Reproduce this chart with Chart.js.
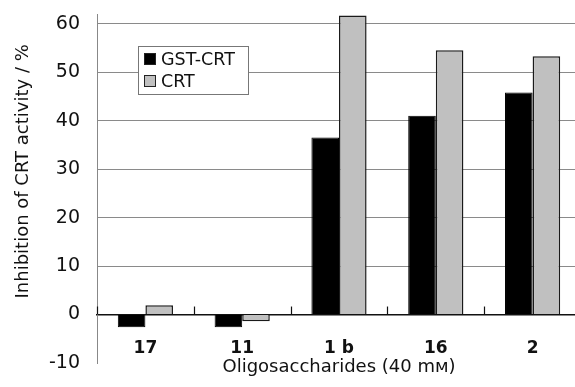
<!DOCTYPE html>
<html>
<head>
<meta charset="utf-8">
<script src="https://cdn.jsdelivr.net/npm/chart.js@4.4.0/dist/chart.umd.min.js"></script>
<style>
  html, body { margin: 0; padding: 0; background: #fff; overflow: hidden; }
  #wrap { width: 590px; height: 387px; }
</style>
</head>
<body>
<div id="wrap"><canvas id="chart"></canvas></div>
<script>
// data
const categories = ['17', '11', '1 b', '16', '2'];
const gstCrt = [-2.6, -2.6, 36.5, 41.0, 45.8];
const crt = [1.9, -1.4, 61.7, 54.5, 53.3];
const seriesNames = ['GST-CRT', 'CRT'];
const yTicks = [-10, 0, 10, 20, 30, 40, 50, 60];

const FONT = 'DejaVu Sans';

// boxed legend drawn inside the plot, upper left
const insideLegend = {
    id: 'insideLegend',
    afterDatasetsDraw(chart) {
        const ctx = chart.ctx;
        const x = 138, y = 46, w = 110, h = 48;
        ctx.save();
        ctx.fillStyle = '#fff';
        ctx.strokeStyle = '#777';
        ctx.lineWidth = 1;
        ctx.fillRect(x, y, w, h);
        ctx.strokeRect(x + 0.5, y + 0.5, w, h);
        ctx.font = '17.5px "' + FONT + '"';
        ctx.textBaseline = 'middle';
        chart.data.datasets.forEach((ds, i) => {
            const cy = y + 13 + i * 22;
            ctx.fillStyle = ds.backgroundColor;
            ctx.fillRect(x + 6, cy - 6, 12, 12);
            ctx.strokeStyle = '#222';
            ctx.strokeRect(x + 6.5, cy - 5.5, 11, 11);
            ctx.fillStyle = '#111';
            ctx.fillText(ds.label, x + 23, cy + 1);
        });
        ctx.restore();
    }
};

// small upward tick marks on the zero line between categories
const zeroTicks = {
    id: 'zeroTicks',
    afterDatasetsDraw(chart) {
        const ctx = chart.ctx;
        const xs = chart.scales.x, ys = chart.scales.y;
        const y0 = ys.getPixelForValue(0);
        ctx.save();
        ctx.strokeStyle = '#111';
        ctx.lineWidth = 1.2;
        for (let i = 0; i <= categories.length; i++) {
            const px = Math.round(xs.getPixelForValue(i - 0.5)) + 0.5;
            ctx.beginPath();
            ctx.moveTo(px, y0);
            ctx.lineTo(px, y0 - 8);
            ctx.stroke();
        }
        ctx.restore();
    }
};

new Chart(document.getElementById('chart'), {
    type: 'bar',
    data: {
        labels: categories,
        datasets: [{
            label: seriesNames[0],
            data: gstCrt,
            backgroundColor: '#000',
            borderColor: '#000',
            borderWidth: 1
        }, {
            label: seriesNames[1],
            data: crt,
            backgroundColor: '#c0c0c0',
            borderColor: '#1a1a1a',
            borderWidth: 1.5
        }]
    },
    options: {
        responsive: true,
        maintainAspectRatio: false,
        animation: false,
        layout: { padding: { top: 14, right: 9, bottom: 0, left: 0 } },
        datasets: {
            bar: { categoryPercentage: 0.57, barPercentage: 1.0 }
        },
        plugins: {
            legend: { display: false },
            tooltip: { enabled: false },
            title: {
                display: true,
                position: 'bottom',
                fullSize: false,
                text: 'Oligosaccharides (40 mᴍ)',
                color: '#111',
                padding: { top: -6, bottom: 8.4 },
                font: { family: FONT, size: 18, weight: 'normal' }
            }
        },
        scales: {
            x: {
                position: { y: 0 },
                grid: { display: false, drawTicks: false },
                border: { display: true, color: '#111', width: 1.5 },
                ticks: {
                    color: '#111',
                    padding: 24,
                    maxRotation: 0,
                    font: { family: FONT, size: 17, weight: 'bold' }
                }
            },
            y: {
                min: -10,
                max: 62,
                afterBuildTicks: scale => {
                    scale.ticks = yTicks.map(v => ({ value: v }));
                },
                afterFit: scale => { scale.width = 97; },
                grid: {
                    drawTicks: true,
                    tickLength: 15,
                    tickColor: 'rgba(0,0,0,0)',
                    color: c => (c.tick && c.tick.value > 0 ? '#8a8a8a' : 'rgba(0,0,0,0)'),
                    lineWidth: 1
                },
                border: { display: true, color: '#888', width: 1 },
                ticks: {
                    color: '#111',
                    padding: 2,
                    font: { family: FONT, size: 19 }
                },
                title: {
                    display: true,
                    text: '      Inhibition of CRT activity / %',
                    color: '#111',
                    padding: { top: 13, bottom: 0 },
                    font: { family: FONT, size: 18 }
                }
            }
        }
    },
    plugins: [insideLegend, zeroTicks]
});
</script>
</body>
</html>
